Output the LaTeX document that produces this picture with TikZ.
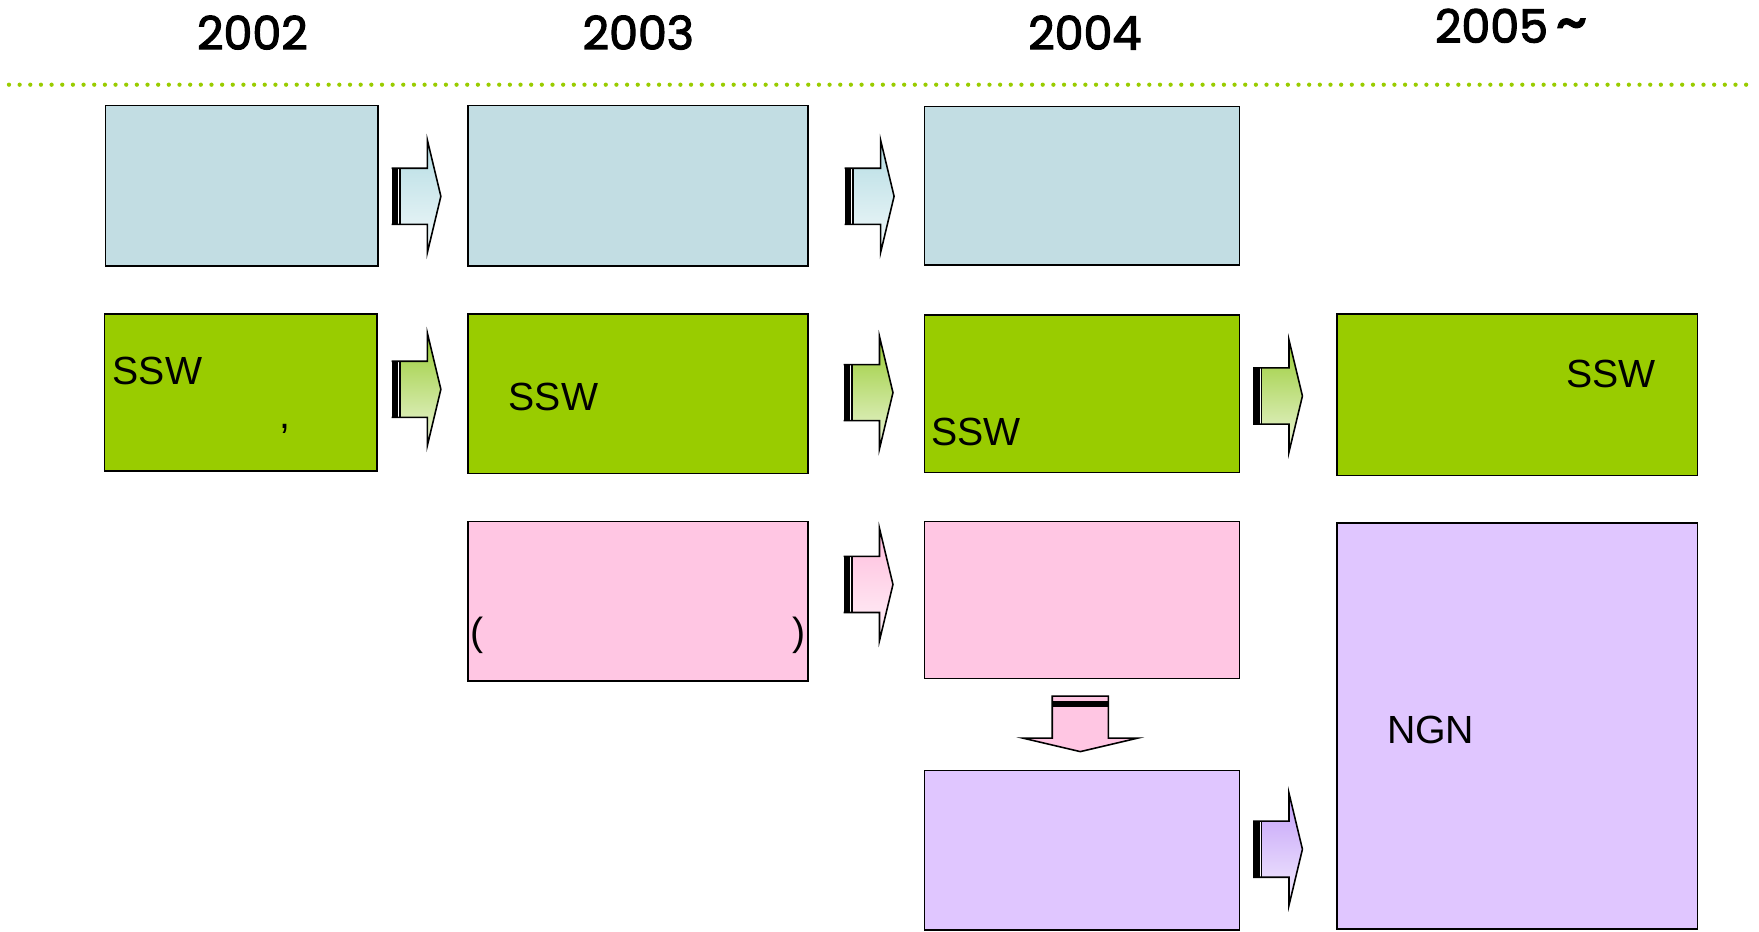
\documentclass[tikz,border=0pt]{standalone}
\usepackage{fontspec}
\setmainfont{Liberation Sans}
\newfontfamily\yearfont[FakeBold=2.5]{Poppins}
\usetikzlibrary{fit}

\definecolor{boxblue}{HTML}{C2DDE3}
\definecolor{boxgreen}{HTML}{99CC00}
\definecolor{boxpink}{HTML}{FFC6E3}
\definecolor{boxviolet}{HTML}{E0C6FF}
\definecolor{arrblue}{HTML}{B4DCE3}
\definecolor{arrgreen}{HTML}{99CC33}
\definecolor{arrpink}{HTML}{FFBCDC}
\definecolor{arrviolet}{HTML}{C29EF8}
\definecolor{dotgreen}{HTML}{99CC00}

\tikzset{
  box/.style={draw=black, line width=0.7pt, fill=#1, inner sep=0pt},
  lbl/.style={anchor=west, inner sep=0pt, font=\fontsize{17.5}{20}\selectfont},
  year/.style={inner sep=0pt, font=\yearfont\fontsize{20.5}{24}\selectfont},
  rarrow/.pic={
      code={
          \shade[top color=#1, bottom color=#1!18!white] (7,-25) -- (32,-25) -- (32,-50) -- (44,0) -- (32,50) -- (32,25) -- (7,25) -- cycle;
          \fill[black] (0,-25) rectangle (6,25);
          \draw[line width=0.7pt] (7.5,-25) -- (7.5,25);
          \draw[line width=0.7pt, line join=miter] (0,-25) -- (32,-25) -- (32,-50) -- (44,0) -- (32,50) -- (32,25) -- (0,25);
        }}
}

\begin{document}
\begin{tikzpicture}[x=0.5pt,y=-0.5pt]
  \useasboundingbox (0,0) rectangle (1568,830);

  % years
  \node[year] (y02) at (225,29) {2002};
  \node[year] (y03) at (569,29) {2003};
  \node[year] (y04) at (967,29) {2004};
  \node[year] (y05) at (1347,23) {2005\,{\fontsize{27}{27}\selectfont\textasciitilde}};
  \draw[dotgreen, line width=1.9pt, line cap=round, dash pattern=on 0pt off 4.75pt] (8,75.5) -- (1563,75.5);

  % boxes
  \node[box=boxblue, fit={(94,94) (337,237)}] (a02) {};
  \node[box=boxblue, fit={(417,94) (720,237)}] (a03) {};
  \node[box=boxblue, fit={(824,95) (1105,236)}] (a04) {};
  \node[box=boxgreen, fit={(93,280) (336,420)}] (b02) {};
  \node[box=boxgreen, fit={(417,280) (720,422)}] (b03) {};
  \node[box=boxgreen, fit={(824,281) (1105,421)}] (b04) {};
  \node[box=boxgreen, fit={(1192,280) (1513,424)}] (b05) {};
  \node[box=boxpink, fit={(417,465) (720,607)}] (c03) {};
  \node[box=boxpink, fit={(824,465) (1105,605)}] (c04) {};
  \node[box=boxviolet, fit={(824,687) (1105,829)}] (d04) {};
  \node[box=boxviolet, fit={(1192,466) (1513,828)}] (ngn) {};

  % labels
  \node[lbl] (t02) at (100,331) {SSW};
  \node[lbl] (cm02) at (249,382) {,};
  \node[lbl] (t03) at (453,354) {SSW};
  \node[lbl] (t04) at (830,385) {SSW};
  \node[lbl] (t05) at (1396,333) {SSW};
  \node[lbl] (pl) at (419,566) {(};
  \node[lbl] (pr) at (706,566) {)};
  \node[lbl] (tngn) at (1236,651) {NGN};

  % arrows
  \path (349,175) pic {rarrow=arrblue};
  \path (753,175) pic {rarrow=arrblue};
  \path (349,347) pic {rarrow=arrgreen};
  \path (752,350) pic {rarrow=arrgreen};
  \path (1117,353) pic {rarrow=arrgreen};
  \path (752,521) pic {rarrow=arrpink};
  \path (1117,757) pic {rarrow=arrviolet};

  \fill[boxpink] (938,620) -- (988,620) -- (988,658) -- (1014,658) -- (963,670) -- (912,658) -- (938,658) -- cycle;
  \fill[black] (938,625) rectangle (988,630.5);
  \draw[line width=0.7pt, line join=miter] (938,620.5) -- (988,620.5) -- (988,658) -- (1014,658) -- (963,670) -- (912,658) -- (938,658) -- cycle;
\end{tikzpicture}
\end{document}
